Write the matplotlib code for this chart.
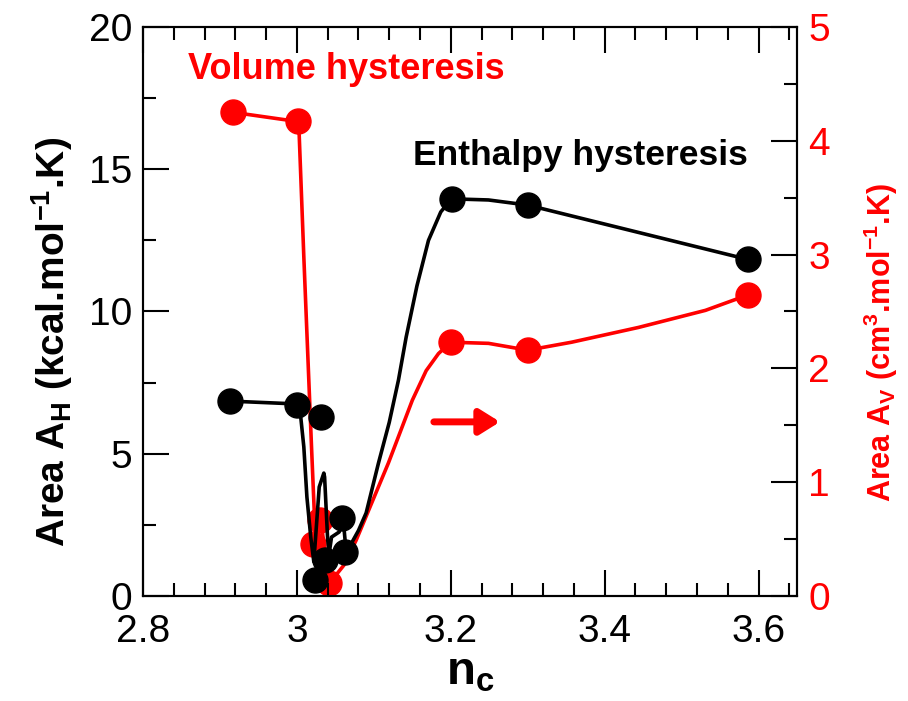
import matplotlib
matplotlib.use("Agg")
import matplotlib.pyplot as plt
from matplotlib.ticker import MultipleLocator

plt.rcParams['font.family'] = ['Liberation Sans', 'DejaVu Sans']
plt.rcParams['mathtext.fontset'] = 'custom'
plt.rcParams['mathtext.rm'] = 'Liberation Sans'
plt.rcParams['mathtext.bf'] = 'Liberation Sans:bold'
plt.rcParams['mathtext.it'] = 'Liberation Sans:italic'

# Enthalpy hysteresis area (left axis)
nc_H = [2.913, 3.000, 3.031, 3.024, 3.037, 3.059, 3.063, 3.201, 3.300, 3.586]
area_H = [6.85, 6.72, 6.28, 0.56, 1.27, 2.73, 1.56, 13.96, 13.74, 11.83]

# Smoothed enthalpy curve
curve_H_x = [2.913, 3.000, 3.005, 3.009, 3.013, 3.018, 3.022, 3.029, 3.035, 3.036,
             3.040, 3.042, 3.045, 3.055, 3.060, 3.064, 3.071, 3.080, 3.090, 3.106,
             3.120, 3.132, 3.142, 3.156, 3.171, 3.187, 3.201, 3.249, 3.300, 3.586]
curve_H_y = [6.85, 6.75, 6.29, 5.24, 3.48, 2.07, 1.20, 3.83, 4.32, 4.18,
             1.97, 1.51, 2.07, 2.25, 2.74, 1.55, 1.86, 2.30, 2.92, 4.67,
             6.10, 7.59, 9.10, 10.90, 12.50, 13.50, 13.96, 13.92, 13.74, 11.83]

# Volume hysteresis area (right axis)
nc_V = [2.917, 3.001, 3.021, 3.030, 3.042, 3.200, 3.300, 3.586]
area_V = [4.25, 4.17, 0.46, 0.67, 0.11, 2.23, 2.16, 2.645]

# Smoothed volume curve
curve_V_x = [2.917, 3.000, 3.003, 3.009, 3.016, 3.019, 3.023, 3.023, 3.031, 3.042,
             3.061, 3.077, 3.119, 3.150, 3.168, 3.184, 3.200, 3.249, 3.300, 3.357,
             3.444, 3.531, 3.586]
curve_V_y = [4.25, 4.17, 4.05, 2.98, 1.81, 1.31, 0.67, 0.47, 0.67, 0.11,
             0.27, 0.49, 1.17, 1.72, 1.98, 2.13, 2.23, 2.22, 2.16, 2.23,
             2.36, 2.51, 2.645]

fig = plt.figure(figsize=(9.08, 7.01), dpi=100)
ax = fig.add_axes([0.1575, 0.1498, 0.7203, 0.8117])
ax2 = ax.twinx()

ax.plot(curve_H_x, curve_H_y, color='black', lw=2.6, zorder=2)
ax.plot(nc_H, area_H, 'o', color='black', ms=18, zorder=3)

ax2.plot(curve_V_x, curve_V_y, color='red', lw=2.6, zorder=2)
ax2.plot(nc_V, area_V, 'o', color='red', ms=18, zorder=3)

# draw black on top of red
ax.set_zorder(ax2.get_zorder() + 1)
ax.patch.set_visible(False)

ax.set_xlim(2.8, 3.65)
ax.set_ylim(0, 20)
ax2.set_ylim(0, 5)

ax.xaxis.set_major_locator(MultipleLocator(0.2))
ax.xaxis.set_minor_locator(MultipleLocator(0.04))
ax.yaxis.set_major_locator(MultipleLocator(5))
ax.yaxis.set_minor_locator(MultipleLocator(2.5))
ax2.yaxis.set_major_locator(MultipleLocator(1))
ax2.yaxis.set_minor_locator(MultipleLocator(0.5))

ax.set_xticks([2.8, 3.0, 3.2, 3.4, 3.6])
ax.set_xticklabels(['2.8', '3', '3.2', '3.4', '3.6'])

for a in (ax, ax2):
    for s in a.spines.values():
        s.set_linewidth(1.5)

ax.tick_params(axis='x', which='both', direction='in', top=True, labelsize=28, pad=13)
ax.tick_params(axis='y', which='both', direction='in', right=False, labelsize=28, pad=8)
ax.tick_params(which='major', length=19, width=1.5)
ax.tick_params(which='minor', length=9.5, width=1.5)
ax2.tick_params(axis='y', which='both', direction='in', labelsize=28, labelcolor='red', pad=8)
ax2.tick_params(which='major', length=19, width=1.5)
ax2.tick_params(which='minor', length=9.5, width=1.5)

ax.set_xlabel(r'$\mathbf{n_c}$', fontsize=34, labelpad=0)
ax.set_ylabel(r'Area A$_\mathbf{H}$ (kcal.mol$^\mathbf{-1}$.K)', fontsize=28,
              fontweight='bold')
ax2.set_ylabel(r'Area A$_\mathbf{V}$ (cm$^\mathbf{3}$.mol$^\mathbf{-1}$.K)', fontsize=22,
               fontweight='bold', color='red')
ax.yaxis.set_label_coords(-0.139, 0.446)
ax.yaxis.label.set_va('center')
ax2.yaxis.set_label_coords(1.128, 0.446)
ax2.yaxis.label.set_va('center')

ax.text(3.064, 18.49, 'Volume hysteresis', color='red', fontsize=26,
        fontweight='bold', ha='center', va='center')
ax.text(3.368, 15.5, 'Enthalpy hysteresis', color='black', fontsize=25.5,
        fontweight='bold', ha='center', va='center')

ax.annotate('', xy=(3.264, 6.12), xytext=(3.178, 6.12),
            arrowprops=dict(arrowstyle='-|>,head_length=1.2,head_width=0.75',
                            color='red', lw=5, shrinkA=0, shrinkB=0))

fig.savefig('out.png', dpi=100)
